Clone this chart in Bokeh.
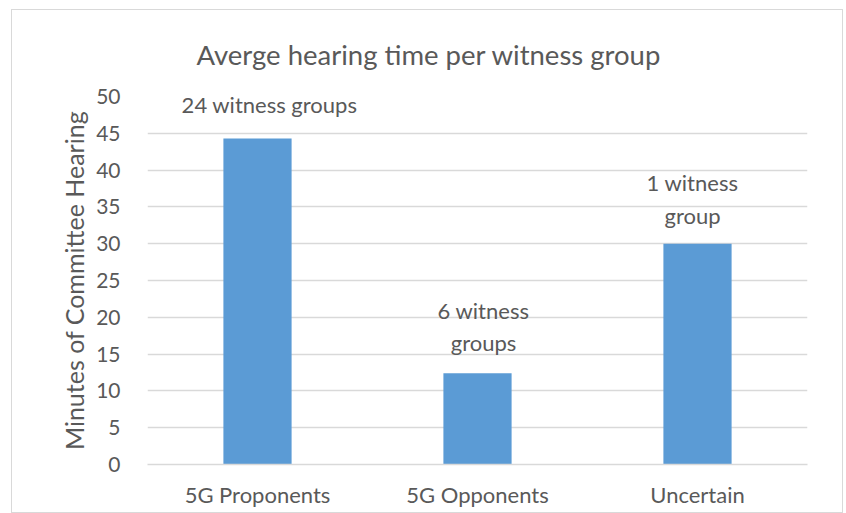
from bokeh.plotting import figure
from bokeh.models import ColumnDataSource, Title
from bokeh.core.properties import value
from bokeh.embed import file_html
from bokeh.resources import INLINE

categories = ["5G Proponents", "5G Opponents", "Uncertain"]
minutes = [44.3, 12.4, 30.0]
group_labels = ["24 witness groups", "6 witness\ngroups", "1 witness\ngroup"]
y_ticks = list(range(0, 51, 5))
title_text = "Averge hearing time per witness group"

FONT = "Lato"
TXT = "#595959"
GRID = "#d9d9d9"
BAR = "#5B9BD5"

p = figure(x_range=categories, y_range=(0, 50), width=832, height=504,
           output_backend="svg", toolbar_location=None,
           min_border_left=135, min_border_right=37, min_border_top=86, min_border_bottom=50)
p.outline_line_color = None
p.styles = {"border": "1.5px solid #d9d9d9", "margin-left": "11px", "margin-top": "9px"}

src = ColumnDataSource(dict(cat=categories, val=minutes, lab=group_labels,
                            dx=[12, 6, -5], dy=[-20, -17, -15]))
p.vbar(x="cat", top="val", width=0.31, source=src, color=BAR, line_color=None)
p.text(x="cat", y="val", text="lab", source=src, x_offset="dx", y_offset="dy",
       text_align="center", text_baseline="bottom", text_font=value(FONT),
       text_font_size="22px", text_color=TXT, text_line_height=1.2)

t = Title(text=title_text, align="left", offset=49, standoff=51,
          text_font=FONT, text_font_size="27.5px", text_color=TXT, text_font_style="normal")
p.add_layout(t, "above")

p.yaxis.ticker = y_ticks
p.yaxis.axis_label = "Minutes of Committee Hearing"
p.yaxis.axis_label_text_font = FONT
p.yaxis.axis_label_text_font_size = "25px"
p.yaxis.axis_label_text_font_style = "normal"
p.yaxis.axis_label_text_color = TXT
p.yaxis.axis_label_standoff = 4
p.yaxis.major_label_text_font = FONT
p.yaxis.major_label_text_font_size = "21px"
p.yaxis.major_label_text_color = TXT
p.yaxis.major_label_standoff = 21
p.yaxis.axis_line_color = None
p.yaxis.major_tick_line_color = None
p.yaxis.minor_tick_line_color = None

p.xaxis.major_label_text_font = FONT
p.xaxis.major_label_text_font_size = "22px"
p.xaxis.major_label_text_color = TXT
p.xaxis.major_label_standoff = 10
p.xaxis.axis_line_color = GRID
p.xaxis.axis_line_width = 1.5
p.xaxis.major_tick_line_color = None
p.xaxis.minor_tick_line_color = None

p.xgrid.grid_line_color = None
p.ygrid.grid_line_color = GRID
p.ygrid.grid_line_width = 1.5

open("out.html", "w").write(file_html(p, INLINE))
